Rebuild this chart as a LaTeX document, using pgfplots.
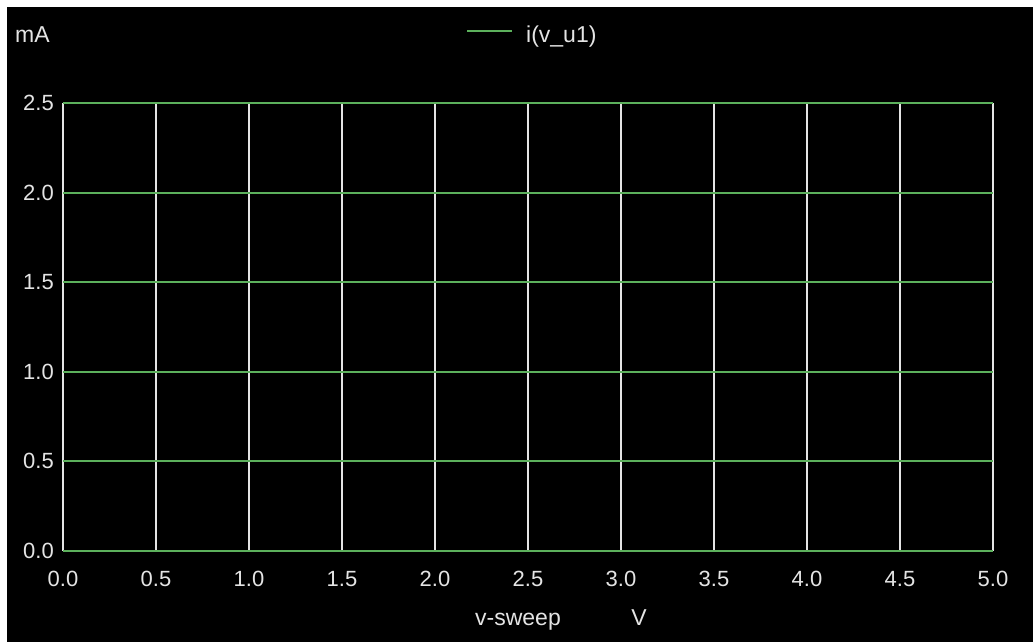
\documentclass[border=0pt]{standalone}
\usepackage{pgfplots}
\pgfplotsset{compat=1.18}
\usepackage{fontspec}
\setmainfont{Liberation Sans}
\definecolor{gr}{RGB}{92,176,92}
\definecolor{wt}{RGB}{228,228,228}
\begin{document}
\fontsize{23pt}{27pt}\selectfont
\begin{tikzpicture}[x=1pt,y=1pt]
\useasboundingbox (0,0) rectangle (1033,642);
\fill[white] (0,0) rectangle (1033,642);
\fill[black] (7,0) rectangle (1033,635);
\begin{axis}[
  at={(63pt,91pt)}, anchor=south west,
  scale only axis, width=930pt, height=448pt,
  xmin=0, xmax=5, ymin=0, ymax=2.5,
  xtick={0,0.5,1,1.5,2,2.5,3,3.5,4,4.5,5}, ytick={0,0.5,1,1.5,2,2.5},
  major tick length=0pt,
  axis line style={draw=none},
  xmajorgrids, ymajorgrids,
  x grid style={wt, line width=2pt},
  y grid style={gr, line width=2pt},
  /pgf/number format/.cd, fixed, fixed zerofill, precision=1, assume math mode=true,
  /pgfplots/.cd,
  ticklabel style={font=\fontsize{22pt}{26pt}\selectfont, text=wt},
  yticklabel style={anchor=east, inner sep=0pt, xshift=-9pt},
  xticklabel style={anchor=center, inner sep=0pt, yshift=-28pt},
  legend style={at={(rel axis cs:0.4333,1.15)}, anchor=west, draw=none, fill=none,
    inner sep=0pt, font=\fontsize{23pt}{27pt}\selectfont, text=wt,
    nodes={inner sep=0pt}},
  legend image code/.code={\draw[gr, line width=2pt] (0pt,5pt) -- (45pt,5pt); \path (58pt,0pt);},
]
\addplot[gr, line width=2pt] coordinates {(0,0) (1,0) (2,0) (3,0) (4,0) (5,0)};
\addlegendentry{i(v\_u1)}
\end{axis}
\node[anchor=west, inner sep=0pt, text=wt] at (15,607) {mA};
\node[anchor=base, inner sep=0pt, text=wt] at (518,16) {v-sweep};
\node[anchor=base, inner sep=0pt, text=wt] at (639,16) {V};
\end{tikzpicture}
\end{document}
